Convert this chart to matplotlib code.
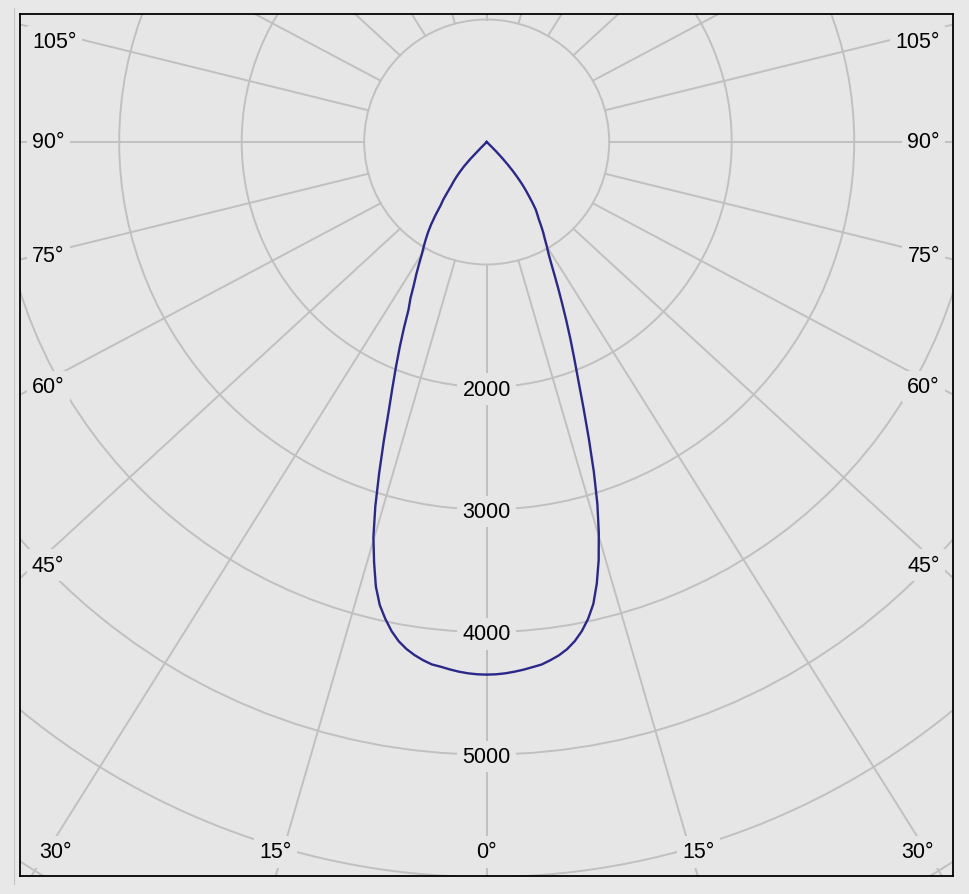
import numpy as np
import matplotlib.pyplot as plt
from matplotlib.patches import Circle
from matplotlib.lines import Line2D

# luminous intensity (cd) against angle from nadir (deg), negative = left half
angles = list(range(-47, 48))
intensity = [0, 0, 60, 190, 270, 325, 375, 420, 460, 520,
             590, 640, 730, 810, 880, 940, 1000, 1060, 1140, 1225,
             1310, 1420, 1510, 1660, 1815, 1975, 2147, 2340, 2580, 2840,
             3110, 3355, 3552, 3740, 3880, 3980, 4068, 4138, 4190, 4230,
             4262, 4288, 4300, 4316, 4330, 4340, 4346,
             4348,
             4346, 4340, 4330, 4318, 4303, 4289, 4262, 4232, 4192, 4138,
             4068, 3980, 3870, 3715, 3532, 3320, 3090, 2830, 2560, 2310,
             2090, 1910, 1750, 1600, 1460, 1335, 1220, 1120, 1040, 980,
             920, 870, 815, 760, 720, 680, 620, 560, 505, 450,
             385, 320, 250, 180, 110, 40, 0]

rings = [1000, 2000, 3000, 4000, 5000, 6000, 7000, 8000]
ring_labels = [2000, 3000, 4000, 5000]
spoke_angles = list(range(0, 181, 15))
angle_labels = [0, 15, 30, 45, 60, 75, 90, 105]

W, H = 969, 895
bg = '#e6e6e6'
grid_col = '#c0c0c0'
curve_col = '#2a2888'
font = ['Liberation Sans', 'DejaVu Sans']
fsize = 15.5

# frame and centre of the diagram in pixels
fl, fr, ft, fb = 20, 953, 15, 877
cx, cy = 486.7, 143
scale = 0.1225  # px per cd

fig = plt.figure(figsize=(W / 100, H / 100), dpi=100, facecolor='#e8e8e8')
ax = fig.add_axes([fl / W, 1 - fb / H, (fr - fl) / W, (fb - ft) / H])
ax.set_facecolor(bg)
ax.set_xlim((fl - cx) / scale, (fr - cx) / scale)
ax.set_ylim(-(fb - cy) / scale, (cy - ft) / scale)
ax.set_xticks([])
ax.set_yticks([])
for s in ax.spines.values():
    s.set_color('black')
    s.set_linewidth(1.3)

# rings
for r in rings:
    ax.add_patch(Circle((0, 0), r, fill=False, ec=grid_col, lw=1.4, zorder=1))

# spokes, drawn from the 1000 ring outward (they lean a bit to horizontal in the original)
k = 0.92
for a in spoke_angles:
    t = np.radians(a)
    for side in (-1, 1):
        x0, y0 = side * 1000 * np.sin(t), -1000 * np.cos(t)
        x1, y1 = x0 + side * 9000 * np.sin(t), y0 - 9000 * k * np.cos(t)
        ax.plot([x0, x1], [y0, y1], color=grid_col, lw=1.4, zorder=1)

box = dict(boxstyle='square,pad=0.25', fc=bg, ec='none')

# ring values on the 0 deg axis
for r in ring_labels:
    ax.text(0, -r - 2 / scale, str(r), ha='center', va='center', fontsize=fsize,
            family=font, bbox=box, zorder=3)

# angle labels where the rays leave the inner rectangle
side_dx = 423.3       # px from centre
bottom_dy = 710       # px below centre
top_limit = 100       # px above centre
for a in angle_labels:
    t = np.radians(a)
    txt = str(a) + '\u00b0'
    if a == 0:
        ax.text(0, -bottom_dy / scale, txt, ha='center', va='center', fontsize=fsize,
                family=font, bbox=box, zorder=3)
        continue
    y_side = side_dx / np.tan(t) if a != 90 else 0.0
    if y_side > bottom_dy:
        xr = bottom_dy * np.tan(t) + 5
        for side, ha in ((-1, 'right'), (1, 'left')):
            ax.text(side * xr / scale, -bottom_dy / scale, txt, ha=ha, va='center',
                    fontsize=fsize, family=font, bbox=box, zorder=3)
    else:
        yy = min(-y_side, top_limit)
        ax.text((fl + 12 - cx) / scale, yy / scale, txt, ha='left', va='center',
                fontsize=fsize, family=font, bbox=box, zorder=3)
        ax.text((fr - 13 - cx) / scale, yy / scale, txt, ha='right', va='center',
                fontsize=fsize, family=font, bbox=box, zorder=3)

# intensity curve
th = np.radians(angles)
I = np.array(intensity)
ax.plot(I * np.sin(th), -I * np.cos(th), color=curve_col, lw=1.7, zorder=4,
        solid_joinstyle='round')

# faint window edge left of the frame
fig.add_artist(Line2D([13.7 / W, 13.7 / W], [1 - 9 / H, 1 - 885 / H],
                      transform=fig.transFigure, color='#c6c6c6', lw=0.8))

fig.savefig('out.png', dpi=100, facecolor=fig.get_facecolor())
